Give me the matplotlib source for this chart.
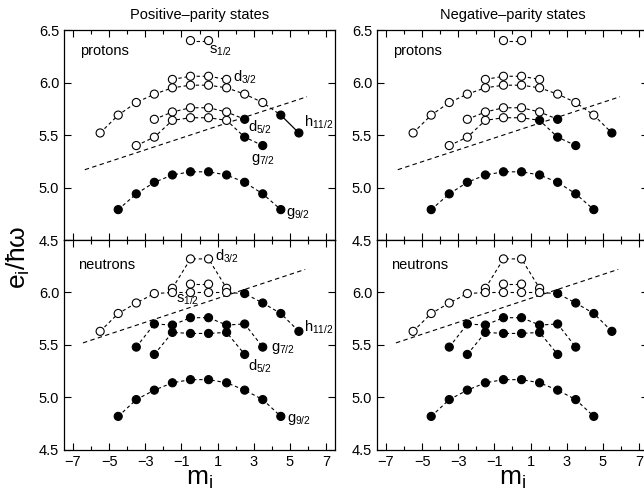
import numpy as np
import matplotlib.pyplot as plt
from matplotlib.ticker import MultipleLocator

plt.rcParams['font.family'] = ['Liberation Sans', 'DejaVu Sans']
plt.rcParams['mathtext.fontset'] = 'custom'
plt.rcParams['mathtext.rm'] = 'Liberation Sans'
plt.rcParams['mathtext.it'] = 'Liberation Sans'

# magnetic substates of each orbital
m_h11 = [-5.5, -4.5, -3.5, -2.5, -1.5, -0.5, 0.5, 1.5, 2.5, 3.5, 4.5, 5.5]
m_g9 = [-4.5, -3.5, -2.5, -1.5, -0.5, 0.5, 1.5, 2.5, 3.5, 4.5]
m_g7 = [-3.5, -2.5, -1.5, -0.5, 0.5, 1.5, 2.5, 3.5]
m_d5 = [-2.5, -1.5, -0.5, 0.5, 1.5, 2.5]
m_d3 = [-1.5, -0.5, 0.5, 1.5]
m_s1 = [-0.5, 0.5]

# proton energies (e_i / hbar omega)
p_g9 = [4.79, 4.94, 5.05, 5.12, 5.15, 5.15, 5.12, 5.05, 4.94, 4.79]
p_g7 = [5.40, 5.48, 5.64, 5.665, 5.665, 5.64, 5.48, 5.40]
p_d5 = [5.65, 5.72, 5.76, 5.76, 5.72, 5.65]
p_d3 = [6.03, 6.06, 6.06, 6.03]
p_s1 = [6.40, 6.40]
p_h11 = [5.52, 5.69, 5.81, 5.89, 5.95, 5.975, 5.975, 5.95, 5.89, 5.81, 5.69, 5.52]

# neutron energies
n_g9 = [4.82, 4.98, 5.07, 5.14, 5.17, 5.17, 5.14, 5.07, 4.98, 4.82]
n_g7 = [5.48, 5.70, 5.69, 5.76, 5.76, 5.69, 5.70, 5.48]
n_d5 = [5.41, 5.62, 5.61, 5.61, 5.62, 5.41]
n_d3 = [6.04, 6.32, 6.32, 6.04]
n_s1 = [6.08, 6.08]
n_h11 = [5.63, 5.80, 5.90, 5.99, 6.00, 6.00, 6.00, 6.00, 5.99, 5.90, 5.80, 5.63]

# occupation (1 = filled circle)
occ_pos_p = {
    'g9': [1, 1, 1, 1, 1, 1, 1, 1, 1, 1],
    'g7': [0, 0, 0, 0, 0, 0, 1, 1],
    'd5': [0, 0, 0, 0, 0, 1],
    'd3': [0, 0, 0, 0],
    's1': [0, 0],
    'h11': [0, 0, 0, 0, 0, 0, 0, 0, 0, 0, 1, 1],
}
occ_neg_p = {
    'g9': [1, 1, 1, 1, 1, 1, 1, 1, 1, 1],
    'g7': [0, 0, 0, 0, 0, 1, 1, 1],
    'd5': [0, 0, 0, 0, 0, 1],
    'd3': [0, 0, 0, 0],
    's1': [0, 0],
    'h11': [0, 0, 0, 0, 0, 0, 0, 0, 0, 0, 0, 1],
}
occ_n = {
    'g9': [1, 1, 1, 1, 1, 1, 1, 1, 1, 1],
    'g7': [1, 1, 1, 1, 1, 1, 1, 1],
    'd5': [1, 1, 1, 1, 1, 1],
    'd3': [0, 0, 0, 0],
    's1': [0, 0],
    'h11': [0, 0, 0, 0, 0, 0, 0, 0, 1, 1, 1, 1],
}

# dashed reference lines
fermi_m_p = [-6.35, 5.95]
fermi_e_p = [5.17, 5.865]
fermi_m_n = [-6.45, 5.85]
fermi_e_n = [5.52, 6.22]

m_all = {'g9': m_g9, 'g7': m_g7, 'd5': m_d5, 'd3': m_d3, 's1': m_s1, 'h11': m_h11}
prot = {'g9': p_g9, 'g7': p_g7, 'd5': p_d5, 'd3': p_d3, 's1': p_s1, 'h11': p_h11}
neut = {'g9': n_g9, 'g7': n_g7, 'd5': n_d5, 'd3': n_d3, 's1': n_s1, 'h11': n_h11}


def draw_panel(ax, energies, occ, fm, fe, solid_tail=False):
    for key in ['g9', 'g7', 'd5', 'd3', 's1', 'h11']:
        m = m_all[key]
        e = energies[key]
        if key == 'h11' and solid_tail:
            ax.plot(m[:-1], e[:-1], color='k', lw=0.8, ls=(0, (3, 2.5)), zorder=1)
            ax.plot(m[-2:], e[-2:], color='k', lw=0.9, zorder=1)
        else:
            ax.plot(m, e, color='k', lw=0.8, ls=(0, (3, 2.5)), zorder=1)
        fc = ['k' if o else 'w' for o in occ[key]]
        ax.scatter(m, e, s=34, facecolors=fc, edgecolors='k', linewidths=0.8, zorder=3)
    ax.plot(fm, fe, color='k', lw=0.8, ls=(0, (4, 3)), zorder=2)
    ax.set_xlim(-7.5, 7.5)
    ax.set_ylim(4.5, 6.5)
    ax.xaxis.set_minor_locator(MultipleLocator(1))
    ax.set_xticks([-7, -5, -3, -1, 1, 3, 5, 7])
    ax.yaxis.set_major_locator(MultipleLocator(0.5))
    ax.tick_params(which='both', direction='in', top=True, right=True, labelsize=10.5)
    ax.tick_params(which='major', length=5, width=0.8)
    ax.tick_params(which='minor', length=3, width=0.8)
    for sp in ax.spines.values():
        sp.set_linewidth(0.9)


fig = plt.figure(figsize=(6.44, 4.97), dpi=100)
ax1 = fig.add_axes([0.0994, 0.517, 0.4208, 0.4225])
ax2 = fig.add_axes([0.5854, 0.517, 0.4208, 0.4225])
ax3 = fig.add_axes([0.0994, 0.0946, 0.4208, 0.4225])
ax4 = fig.add_axes([0.5854, 0.0946, 0.4208, 0.4225])

draw_panel(ax1, prot, occ_pos_p, fermi_m_p, fermi_e_p, solid_tail=True)
draw_panel(ax2, prot, occ_neg_p, fermi_m_p, fermi_e_p)
draw_panel(ax3, neut, occ_n, fermi_m_n, fermi_e_n)
draw_panel(ax4, neut, occ_n, fermi_m_n, fermi_e_n)

for ax in [ax1, ax2]:
    ax.set_xticklabels([])
    ax.set_yticks([4.5, 5.0, 5.5, 6.0, 6.5])
    ax.set_yticklabels(['4.5', '5.0', '5.5', '6.0', '6.5'])
    ax.text(-6.6, 6.26, 'protons', fontsize=10.5)
for ax in [ax3, ax4]:
    ax.set_yticks([4.5, 5.0, 5.5, 6.0, 6.5])
    ax.set_yticklabels(['4.5', '5.0', '5.5', '6.0', ''])
    ax.set_xticklabels(['\u22127', '\u22125', '\u22123', '\u22121', '1', '3', '5', '7'])
    ax.text(-6.7, 6.22, 'neutrons', fontsize=10.5)
    ax.set_xlabel(r'm$_\mathregular{i}$', fontsize=19, labelpad=-1)

ax1.set_title('Positive\u2013parity states', fontsize=10.5, pad=8)
ax2.set_title('Negative\u2013parity states', fontsize=10.5, pad=8)

lab = dict(fontsize=10.5, va='center', ha='left')
ax1.text(0.5, 6.3, r's$_\mathregular{1/2}$', **lab)
ax1.text(1.85, 6.05, r'd$_\mathregular{3/2}$', **lab)
ax1.text(2.7, 5.57, r'd$_\mathregular{5/2}$', **lab)
ax1.text(2.85, 5.27, r'g$_\mathregular{7/2}$', **lab)
ax1.text(5.8, 5.62, r'h$_\mathregular{11/2}$', **lab)
ax1.text(4.8, 4.75, r'g$_\mathregular{9/2}$', **lab)

ax3.text(0.85, 6.34, r'd$_\mathregular{3/2}$', **lab)
ax3.text(-1.3, 5.93, r's$_\mathregular{1/2}$', **lab)
ax3.text(5.8, 5.67, r'h$_\mathregular{11/2}$', **lab)
ax3.text(3.95, 5.47, r'g$_\mathregular{7/2}$', **lab)
ax3.text(2.7, 5.3, r'd$_\mathregular{5/2}$', **lab)
ax3.text(4.85, 4.79, r'g$_\mathregular{9/2}$', **lab)

fig.text(0.028, 0.483, r'e$_\mathregular{i}$/ħω', rotation=90, fontsize=19, ha='center', va='center')

fig.savefig('out.png', dpi=100)
